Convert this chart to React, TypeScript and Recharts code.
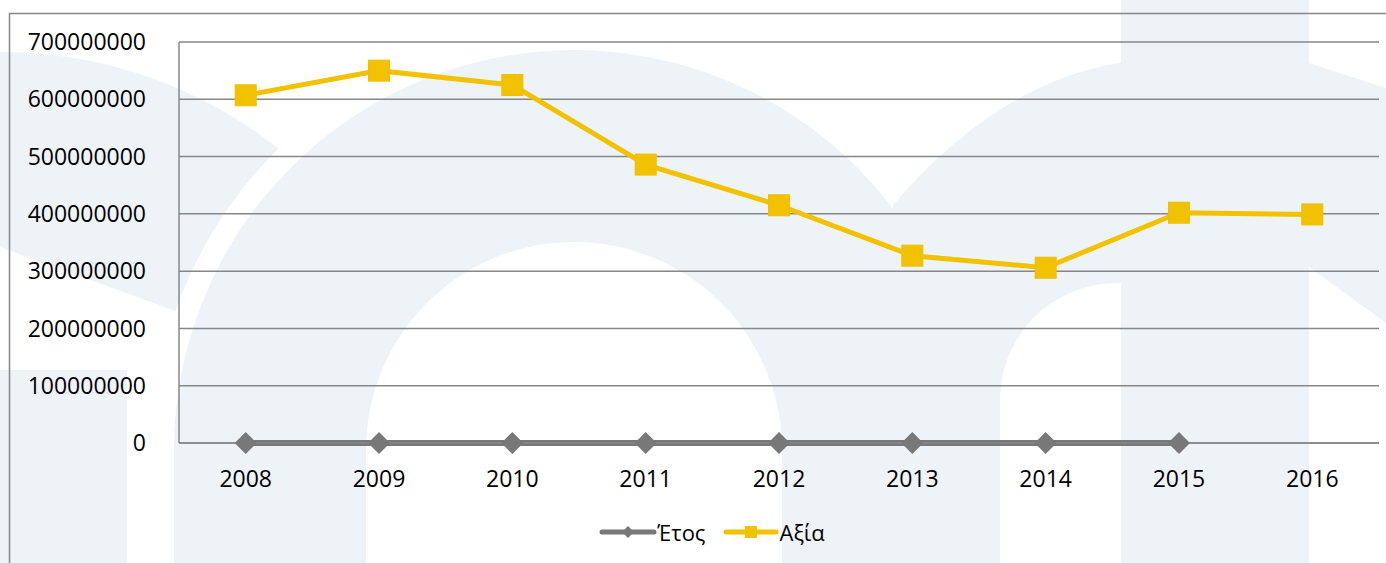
import React from "react"
import { LineChart, Line, XAxis, YAxis, CartesianGrid, Legend } from "recharts"

const years = ["2008", "2009", "2010", "2011", "2012", "2013", "2014", "2015", "2016"]
const etos: (number | null)[] = [2008, 2009, 2010, 2011, 2012, 2013, 2014, 2015, null]
const axia = [607000000, 650000000, 625000000, 486000000, 415000000, 327000000, 306000000, 402000000, 399000000]
const yTicks = [0, 100000000, 200000000, 300000000, 400000000, 500000000, 600000000, 700000000]

const W = 1386
const H = 563
const FONT = "'Open Sans', sans-serif"
const GREY = "#787878"
const GOLD = "#f2c200"
const WM = "#eef3f8"

const data = years.map((y, i) => ({ year: y, etos: etos[i], axia: axia[i] }))

// faded logo behind the chart
function Watermark() {
  const arch =
    "M174,563 L174,450 A400,400 0 0 1 974,450 L974,563 L782,563 L782,450 A208,208 0 0 0 366,450 L366,563 Z"
  return (
    <svg width={W} height={H} style={{ position: "absolute", left: 0, top: 0 }}>
      <path d="M0,52 A448,448 0 0 1 330,196 L200,320 L0,247 Z" fill={WM} />
      <path d={arch} fill="none" stroke="#fff" strokeWidth={44} />
      <rect x={0} y={370} width={127} height={193} fill={WM} />
      <path d={arch} fill={WM} />
      <path d="M1000,563 L1000,400 A117,117 0 0 1 1117,283 L1125,283 L1125,62 Q1000,80 893,205 L900,563 Z" fill={WM} />
      <rect x={1121} y={0} width={188} height={563} fill={WM} />
      <path d="M1309,63 L1386,88 L1386,323 L1309,267 Z" fill={WM} />
      <rect x={9.5} y={13.5} width={1500} height={700} fill="none" stroke="#878787" strokeWidth={1.5} />
    </svg>
  )
}

function Diamond(props: any) {
  const { cx, cy, payload, index } = props
  if (cx == null || cy == null || payload?.etos == null) return <g key={`d${index}`} />
  return (
    <polygon
      key={`d${index}`}
      points={`${cx},${cy - 11} ${cx + 11},${cy} ${cx},${cy + 11} ${cx - 11},${cy}`}
      fill={GREY}
    />
  )
}

function Square(props: any) {
  const { cx, cy, index } = props
  if (cx == null || cy == null) return <g key={`s${index}`} />
  return (
    <rect key={`s${index}`} x={cx - 10.5} y={cy - 10.5} width={21} height={21} fill={GOLD} stroke="#ecc000" strokeWidth={1} />
  )
}

function LegendBox() {
  return (
    <div style={{ display: "flex", justifyContent: "center", alignItems: "center", height: 30, paddingLeft: 38, fontFamily: FONT, fontSize: 22, color: "#000" }}>
      <svg width={58} height={20}>
        <line x1={3} y1={10} x2={55} y2={10} stroke={GREY} strokeWidth={5} strokeLinecap="round" />
        <polygon points="29,4 35,10 29,16 23,10" fill={GREY} />
      </svg>
      <span style={{ marginRight: 18 }}>Έτος</span>
      <svg width={56} height={20}>
        <line x1={3} y1={10} x2={53} y2={10} stroke={GOLD} strokeWidth={5} strokeLinecap="round" />
        <rect x={22} y={4} width={12} height={12} fill={GOLD} />
      </svg>
      <span>Αξία</span>
    </div>
  )
}

export default function App() {
  return (
    <div style={{ position: "fixed", left: 0, top: 0, width: W, height: H, background: "#fff", overflow: "hidden" }}>
      <Watermark />
      <div style={{ position: "absolute", left: 0, top: 0 }}>
        <LineChart width={W} height={H} data={data} margin={{ top: 42, right: 7, bottom: 50, left: 0 }}>
          <CartesianGrid vertical={false} stroke="#878787" strokeWidth={1.5} />
          <XAxis
            dataKey="year"
            padding={{ left: 66.7, right: 66.7 }}
            height={40}
            tickLine={false}
            tickSize={0}
            tickMargin={28}
            axisLine={{ stroke: "#878787", strokeWidth: 1.5 }}
            tick={{ fill: "#000", fontSize: 23, fontFamily: FONT }}
          />
          <YAxis
            width={179}
            domain={[0, 700000000]}
            ticks={yTicks}
            interval={0}
            tickLine={false}
            tickSize={0}
            tickMargin={33}
            axisLine={{ stroke: "#878787", strokeWidth: 1.5 }}
            tick={{ fill: "#000", fontSize: 23, fontFamily: FONT }}
            tickFormatter={(v: number) => String(v)}
          />
          <Legend
            verticalAlign="bottom"
            content={() => <LegendBox />}
            wrapperStyle={{ top: 517, left: 0, bottom: "auto", width: W }}
          />
          <Line
            type="linear"
            dataKey="etos"
            name="Έτος"
            stroke={GREY}
            strokeWidth={6}
            dot={<Diamond />}
            activeDot={false}
            isAnimationActive={false}
          />
          <Line
            type="linear"
            dataKey="axia"
            name="Αξία"
            stroke={GOLD}
            strokeWidth={5}
            dot={<Square />}
            activeDot={false}
            isAnimationActive={false}
          />
        </LineChart>
      </div>
    </div>
  )
}
